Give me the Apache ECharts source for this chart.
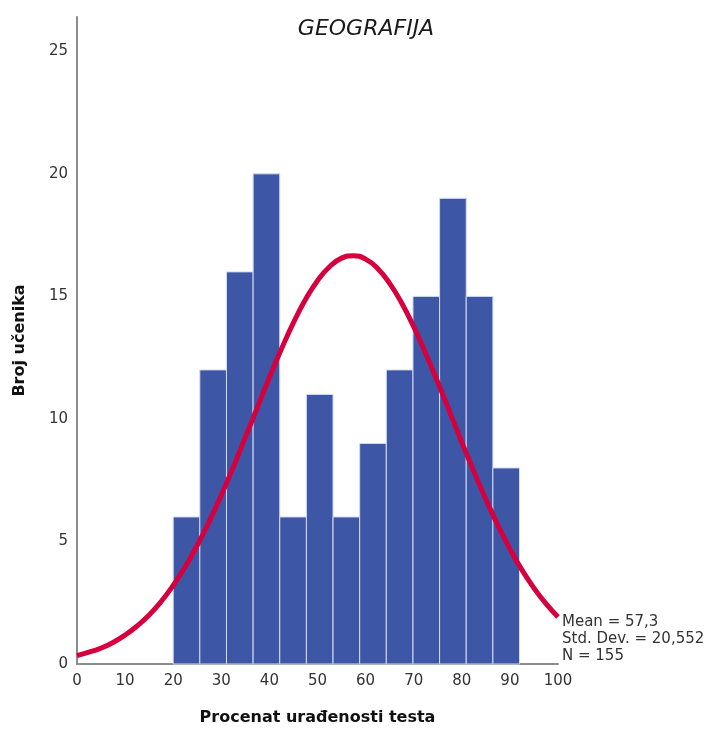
<!DOCTYPE html>
<html>
<head>
<meta charset="utf-8">
<script src="https://cdn.jsdelivr.net/npm/echarts@6/dist/echarts.min.js"></script>
<style>
html,body{margin:0;padding:0;background:#fff;}
#chart{width:719px;height:731px;}
</style>
</head>
<body>
<div id="chart"></div>
<script>
// Histogram data
var binMin = 20;
var binMax = 92;
var counts = [6, 12, 16, 20, 6, 11, 6, 9, 12, 15, 19, 15, 8];
// Normal curve points
var curveX = [0, 2.5, 5, 7.5, 10, 12.5, 15, 17.5, 20, 22.5, 25, 27.5, 30, 32.5, 35, 37.5, 40, 42.5, 45, 47.5, 50, 52.5, 55, 57.5, 60, 62.5, 65, 67.5, 70, 72.5, 75, 77.5, 80, 82.5, 85, 87.5, 90, 92.5, 95, 97.5, 100];
var curveY = [0.34, 0.48, 0.65, 0.88, 1.18, 1.55, 2.0, 2.55, 3.21, 3.97, 4.84, 5.82, 6.89, 8.04, 9.25, 10.47, 11.69, 12.85, 13.93, 14.87, 15.64, 16.21, 16.56, 16.66, 16.52, 16.14, 15.53, 14.73, 13.76, 12.67, 11.5, 10.28, 9.05, 7.86, 6.72, 5.66, 4.7, 3.84, 3.1, 2.46, 1.92];
var xTicks = [0, 10, 20, 30, 40, 50, 60, 70, 80, 90, 100];
var yTicks = [0, 5, 10, 15, 20, 25];
var statsText = ['Mean = 57,3', 'Std. Dev. = 20,552', 'N = 155'];

var binW = (binMax - binMin) / counts.length;
var barData = counts.map(function (c, i) { return [binMin + i * binW, binMin + (i + 1) * binW, c]; });
var lineData = curveX.map(function (x, i) { return [x, curveY[i]]; });

var chart = echarts.init(document.getElementById('chart'));
var font = 'DejaVu Sans, Verdana, sans-serif';
chart.setOption({
  animation: false,
  backgroundColor: '#ffffff',
  title: {
    text: 'GEOGRAFIJA',
    left: 361, top: 13, textAlign: 'center',
    textStyle: { fontFamily: font, fontSize: 22, fontStyle: 'italic', fontWeight: 'normal', color: '#1a1a1a' }
  },
  grid: { left: 77, right: 161, top: 17, bottom: 63 },
  xAxis: {
    type: 'value', min: 0, max: 100, interval: 10,
    axisLine: { show: true, lineStyle: { color: '#8c8c8c', width: 2 } },
    axisTick: { show: false },
    splitLine: { show: false },
    axisLabel: { fontFamily: font, fontSize: 15, color: '#333', margin: 10,
      formatter: function (v) { return xTicks.indexOf(v) >= 0 ? String(v) : ''; } },
    name: 'Procenat urađenosti testa', nameLocation: 'middle', nameGap: 46,
    nameTextStyle: { fontFamily: font, fontSize: 16, fontWeight: 'bold', color: '#111' }
  },
  yAxis: {
    type: 'value', min: 0, max: 26.4, interval: 5,
    axisLine: { show: true, lineStyle: { color: '#8c8c8c', width: 2 } },
    axisTick: { show: false },
    splitLine: { show: false },
    axisLabel: { fontFamily: font, fontSize: 15, color: '#333', margin: 9, showMaxLabel: false,
      formatter: function (v) { return yTicks.indexOf(v) >= 0 ? String(v) : ''; } },
    name: 'Broj učenika', nameLocation: 'middle', nameGap: 49,
    nameTextStyle: { fontFamily: font, fontSize: 16, fontWeight: 'bold', color: '#111' }
  },
  series: [
    {
      type: 'custom',
      data: barData,
      renderItem: function (params, api) {
        var p0 = api.coord([api.value(0), api.value(2)]);
        var p1 = api.coord([api.value(1), 0]);
        return {
          type: 'rect',
          shape: { x: p0[0], y: p0[1], width: p1[0] - p0[0], height: p1[1] - p0[1] },
          style: { fill: '#3d56a6', stroke: '#d3dbf2', lineWidth: 1 }
        };
      },
      encode: { x: [0, 1], y: 2 },
      z: 2
    },
    {
      type: 'line',
      data: lineData,
      smooth: true,
      showSymbol: false,
      lineStyle: { color: '#d6003f', width: 5 },
      z: 3
    }
  ],
  graphic: [{
    type: 'text', left: 562, top: 614,
    style: { text: statsText.join('\n'), fontFamily: font, fontSize: 15, lineHeight: 17, fill: '#333' }
  }]
});
</script>
</body>
</html>
